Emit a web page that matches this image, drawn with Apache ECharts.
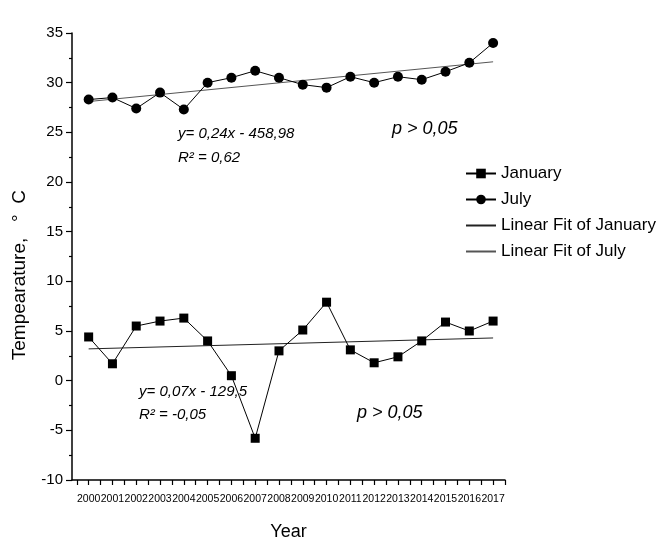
<!DOCTYPE html>
<html>
<head>
<meta charset="utf-8">
<script src="https://cdn.jsdelivr.net/npm/echarts@6/dist/echarts.min.js"></script>
<style>
  html, body { margin: 0; padding: 0; background: #fff; }
  #chart { width: 668px; height: 549px; }
</style>
</head>
<body>
<div id="chart"></div>
<script>
// years on the x axis
var years = [2000, 2001, 2002, 2003, 2004, 2005, 2006, 2007, 2008,
             2009, 2010, 2011, 2012, 2013, 2014, 2015, 2016, 2017];
// monthly mean temperatures
var january = [4.4, 1.7, 5.5, 6.0, 6.3, 4.0, 0.5, -5.8, 3.0,
               5.1, 7.9, 3.1, 1.8, 2.4, 4.0, 5.9, 5.0, 6.0];
var july = [28.3, 28.5, 27.4, 29.0, 27.3, 30.0, 30.5, 31.2, 30.5,
            29.8, 29.5, 30.6, 30.0, 30.6, 30.3, 31.1, 32.0, 34.0];
// fitted lines, start and end value as drawn
var fitJanuary = [3.2, 4.3];
var fitJuly = [28.1, 32.1];
// half year ticks under the x axis
var halfYears = [];
for (var t = 1999.5; t <= 2017.5; t += 0.5) halfYears.push(t);

var font = '"Liberation Sans", Arial, sans-serif';

function pairs(vals) {
  return years.map(function (y, i) { return [y, vals[i]]; });
}
function fitPairs(ends) {
  return [[years[0], ends[0]], [years[years.length - 1], ends[1]]];
}

var chart = echarts.init(document.getElementById('chart'));

var option = {
  animation: false,
  backgroundColor: '#fff',
  grid: { left: 72, right: 163, top: 33, bottom: 69 },
  legend: {
    orient: 'vertical',
    left: 465,
    top: 165,
    padding: 0,
    itemWidth: 30,
    itemHeight: 12,
    itemGap: 9,
    textStyle: { fontFamily: font, fontSize: 17, color: '#000', lineHeight: 17 },
    data: [
      'January',
      'July',
      { name: 'Linear Fit of January', itemStyle: { opacity: 0 } },
      { name: 'Linear Fit of July', itemStyle: { opacity: 0 } }
    ]
  },
  xAxis: {
    type: 'value',
    min: 1999.3,
    max: 2017.5,
    name: 'Year',
    nameLocation: 'middle',
    nameGap: 43,
    nameTextStyle: { fontFamily: font, fontSize: 18, color: '#000' },
    axisLine: { onZero: false, lineStyle: { color: '#000', width: 1.5 } },
    axisTick: {
      customValues: halfYears,
      length: 5,
      lineStyle: { color: '#000', width: 1.2 }
    },
    axisLabel: {
      customValues: years,
      margin: 14,
      hideOverlap: false,
      formatter: function (v) { return String(v); },
      fontFamily: font,
      fontSize: 10.5,
      color: '#000'
    },
    splitLine: { show: false }
  },
  yAxis: {
    type: 'value',
    min: -10,
    max: 35,
    interval: 5,
    axisLine: { show: true, lineStyle: { color: '#000', width: 1.5 } },
    axisTick: { show: true, length: 6, lineStyle: { color: '#000', width: 1.2 } },
    minorTick: { show: true, splitNumber: 2, length: 3, lineStyle: { color: '#000', width: 1.2 } },
    axisLabel: { margin: 9, fontFamily: font, fontSize: 15, color: '#000' },
    splitLine: { show: false }
  },
  graphic: [
    {
      type: 'text', left: 10, top: 190, rotation: Math.PI / 2,
      style: { text: 'Tempearature,   \u00b0  C', font: '19px ' + font, fill: '#000' }
    },
    {
      type: 'text', left: 178, top: 126,
      style: { text: 'y= 0,24x - 458,98', font: 'italic 15px ' + font, fill: '#000' }
    },
    {
      type: 'text', left: 178, top: 150,
      style: { text: 'R\u00b2 = 0,62', font: 'italic 15px ' + font, fill: '#000' }
    },
    {
      type: 'text', left: 392, top: 120,
      style: { text: 'p > 0,05', font: 'italic 18px ' + font, fill: '#000' }
    },
    {
      type: 'text', left: 139, top: 384,
      style: { text: 'y= 0,07x - 129,5', font: 'italic 15px ' + font, fill: '#000' }
    },
    {
      type: 'text', left: 139, top: 407,
      style: { text: 'R\u00b2 = -0,05', font: 'italic 15px ' + font, fill: '#000' }
    },
    {
      type: 'text', left: 357, top: 404,
      style: { text: 'p > 0,05', font: 'italic 18px ' + font, fill: '#000' }
    }
  ],
  series: [
    {
      name: 'January',
      type: 'line',
      data: pairs(january),
      symbol: 'rect',
      symbolSize: 9,
      itemStyle: { color: '#000' },
      lineStyle: { color: '#000', width: 1 },
      z: 3
    },
    {
      name: 'July',
      type: 'line',
      data: pairs(july),
      symbol: 'circle',
      symbolSize: 10,
      itemStyle: { color: '#000' },
      lineStyle: { color: '#000', width: 1 },
      z: 3
    },
    {
      name: 'Linear Fit of January',
      type: 'line',
      data: fitPairs(fitJanuary),
      symbol: 'none',
      itemStyle: { color: '#222' },
      lineStyle: { color: '#222', width: 1 },
      z: 2
    },
    {
      name: 'Linear Fit of July',
      type: 'line',
      data: fitPairs(fitJuly),
      symbol: 'none',
      itemStyle: { color: '#555' },
      lineStyle: { color: '#555', width: 1 },
      z: 2
    }
  ]
};

chart.setOption(option);
</script>
</body>
</html>
